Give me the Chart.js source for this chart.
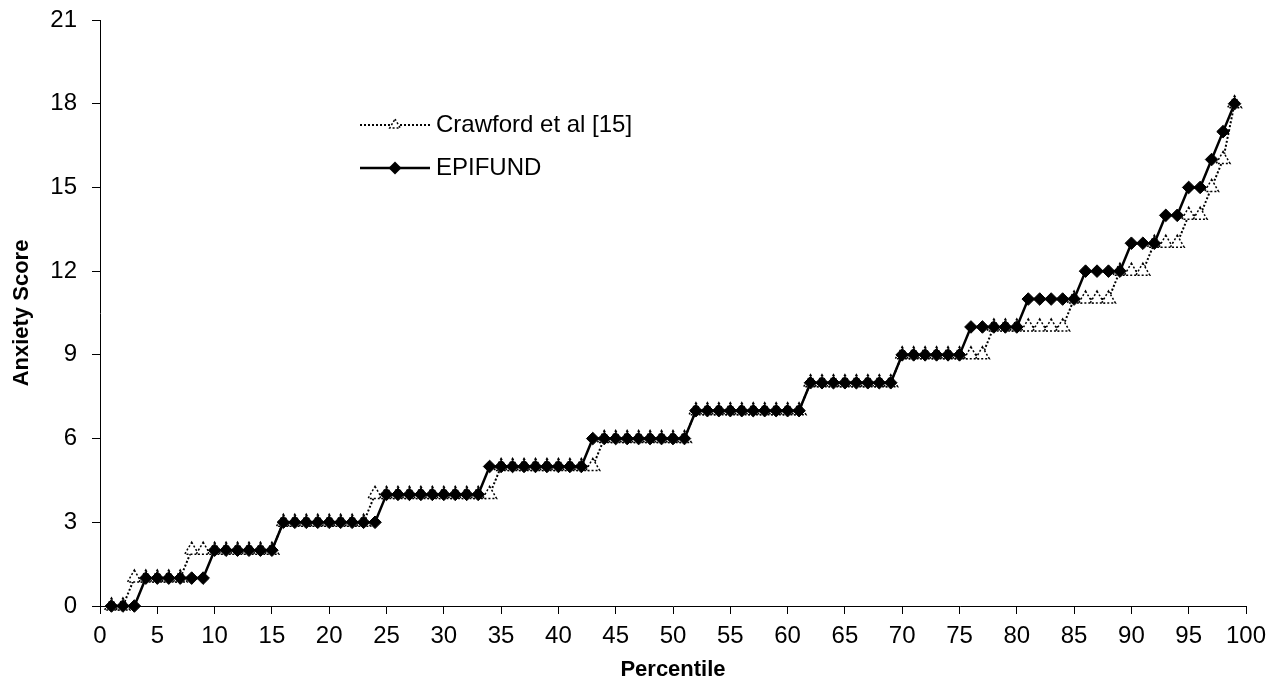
<!DOCTYPE html>
<html>
<head>
<meta charset="utf-8">
<script src="https://cdn.jsdelivr.net/npm/chart.js@4.4.1/dist/chart.umd.min.js"></script>
<style>
  html, body { margin: 0; padding: 0; background: #ffffff; }
  #wrap { width: 1285px; height: 688px; position: relative; }
</style>
</head>
<body>
<div id="wrap"><canvas id="c" width="1285" height="688"></canvas></div>
<script>
const percentiles = [1,2,3,4,5,6,7,8,9,10,11,12,13,14,15,16,17,18,19,20,
  21,22,23,24,25,26,27,28,29,30,31,32,33,34,35,36,37,38,39,40,
  41,42,43,44,45,46,47,48,49,50,51,52,53,54,55,56,57,58,59,60,
  61,62,63,64,65,66,67,68,69,70,71,72,73,74,75,76,77,78,79,80,
  81,82,83,84,85,86,87,88,89,90,91,92,93,94,95,96,97,98,99];

const crawford = [0,0,1,1,1,1,1,2,2,2,2,2,2,2,2,3,3,3,3,3,
  3,3,3,4,4,4,4,4,4,4,4,4,4,4,5,5,5,5,5,5,
  5,5,5,6,6,6,6,6,6,6,6,7,7,7,7,7,7,7,7,7,
  7,8,8,8,8,8,8,8,8,9,9,9,9,9,9,9,9,10,10,10,
  10,10,10,10,11,11,11,11,12,12,12,13,13,13,14,14,15,16,18];

const epifund = [0,0,0,1,1,1,1,1,1,2,2,2,2,2,2,3,3,3,3,3,
  3,3,3,3,4,4,4,4,4,4,4,4,4,5,5,5,5,5,5,5,
  5,5,6,6,6,6,6,6,6,6,6,7,7,7,7,7,7,7,7,7,
  7,8,8,8,8,8,8,8,8,9,9,9,9,9,9,10,10,10,10,10,
  11,11,11,11,11,12,12,12,12,13,13,13,14,14,15,15,16,17,18];

const seriesNames = ['Crawford et al [15]', 'EPIFUND'];
const xTickStep = 5, xMin = 0, xMax = 100;
const yTickStep = 3, yMin = 0, yMax = 21;
const xTitle = 'Percentile';
const yTitle = 'Anxiety Score';

const FONT = "'Liberation Sans', Arial, Helvetica, sans-serif";

function toPoints(vals) { return percentiles.map((p, i) => ({ x: p, y: vals[i] })); }

const dottedMarkers = {
  id: 'dottedMarkers',
  beforeDatasetDraw(chart, args) {
    if (args.index === 0) { chart.ctx.save(); chart.ctx.setLineDash([2, 2]); }
  },
  afterDatasetDraw(chart, args) {
    if (args.index === 0) { chart.ctx.restore(); }
  }
};

const legendPlugin = {
  id: 'customLegend',
  afterDraw(chart) {
    const ctx = chart.ctx;
    ctx.save();
    const x0 = 360, x1 = 430, mx = 395, tx = 436;
    const rows = [125, 168];
    // Crawford row
    let y = rows[0];
    ctx.strokeStyle = '#000'; ctx.lineWidth = 2; ctx.setLineDash([2, 2]);
    ctx.beginPath(); ctx.moveTo(x0, y); ctx.lineTo(x1, y); ctx.stroke();
    ctx.fillStyle = '#fff'; ctx.lineWidth = 1.5;
    const r = 6;
    ctx.beginPath();
    ctx.moveTo(mx, y - r);
    ctx.lineTo(mx + r * 0.866, y + r / 2);
    ctx.lineTo(mx - r * 0.866, y + r / 2);
    ctx.closePath(); ctx.fill(); ctx.stroke();
    // EPIFUND row
    y = rows[1];
    ctx.setLineDash([]);
    ctx.lineWidth = 2.5;
    ctx.beginPath(); ctx.moveTo(x0, y); ctx.lineTo(x1, y); ctx.stroke();
    ctx.fillStyle = '#000'; ctx.lineWidth = 1;
    const d = 6.5;
    ctx.beginPath();
    ctx.moveTo(mx, y - d); ctx.lineTo(mx + d, y); ctx.lineTo(mx, y + d); ctx.lineTo(mx - d, y);
    ctx.closePath(); ctx.fill();
    // texts
    ctx.fillStyle = '#000';
    ctx.font = '24px ' + FONT;
    ctx.textAlign = 'left'; ctx.textBaseline = 'middle';
    ctx.fillText(seriesNames[0], tx, rows[0]);
    ctx.fillText(seriesNames[1], tx, rows[1]);
    ctx.restore();
  }
};

new Chart(document.getElementById('c'), {
  type: 'line',
  data: {
    datasets: [
      {
        label: seriesNames[0],
        data: toPoints(crawford),
        borderColor: '#000',
        borderWidth: 2,
        borderDash: [2, 2],
        pointStyle: 'triangle',
        pointRadius: 8,
        pointBackgroundColor: '#fff',
        pointBorderColor: '#000',
        pointBorderWidth: 1.5,
        fill: false,
        tension: 0,
        order: 1,
        clip: false
      },
      {
        label: seriesNames[1],
        data: toPoints(epifund),
        borderColor: '#000',
        borderWidth: 2.5,
        pointStyle: 'rectRot',
        pointRadius: 6.3,
        pointBackgroundColor: '#000',
        pointBorderColor: '#000',
        pointBorderWidth: 1,
        fill: false,
        tension: 0,
        order: 0,
        clip: false
      }
    ]
  },
  options: {
    responsive: false,
    animation: false,
    events: [],
    devicePixelRatio: 1,
    layout: { padding: { top: 20, right: 39, bottom: 0, left: 0 } },
    plugins: { legend: { display: false }, tooltip: { enabled: false } },
    scales: {
      x: {
        type: 'linear', min: xMin, max: xMax,
        ticks: { stepSize: xTickStep, color: '#000', font: { family: FONT, size: 24 }, padding: 8, maxRotation: 0, autoSkip: false },
        grid: { drawOnChartArea: false, drawTicks: true, tickLength: 8, color: '#000', lineWidth: 1 },
        border: { color: '#000', width: 1 },
        title: { display: true, text: xTitle, color: '#000', font: { family: FONT, size: 22, weight: 'bold' }, padding: { top: 0, bottom: 5 } },
        afterFit(s) { s.height = 82; s.paddingLeft = 0; s.paddingRight = 0; }
      },
      y: {
        type: 'linear', min: yMin, max: yMax,
        ticks: { stepSize: yTickStep, color: '#000', font: { family: FONT, size: 24 }, padding: 15 },
        grid: { drawOnChartArea: false, drawTicks: true, tickLength: 8, color: '#000', lineWidth: 1 },
        border: { color: '#000', width: 1 },
        title: { display: true, text: yTitle, color: '#000', font: { family: FONT, size: 22, weight: 'bold' }, padding: { top: 9, bottom: 0 } },
        afterFit(s) { s.width = 100; s.paddingTop = 0; s.paddingBottom = 0; }
      }
    }
  },
  plugins: [dottedMarkers, legendPlugin]
});
</script>
</body>
</html>
